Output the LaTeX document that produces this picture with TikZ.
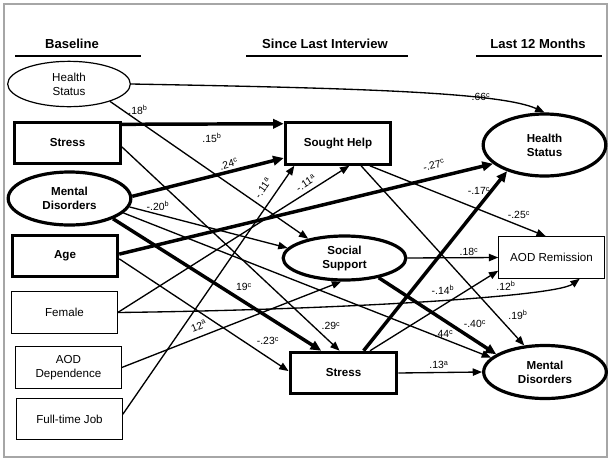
\documentclass[tikz,border=0pt]{standalone}
\usepackage{fontspec}
\setmainfont{Liberation Sans}
\usetikzlibrary{shapes.geometric,arrows.meta}

\begin{document}
\begin{tikzpicture}
[x=0.75pt,y=-0.75pt]
\tikzset{ovl/.style={ellipse,draw,fill=white,line width=0.9pt,minimum width=92pt,inner sep=0pt,align=center,font=\fontsize{8.7}{10.5}\selectfont}}
\tikzset{ovlb/.style={ovl,line width=2.4pt,font=\fontsize{8.7}{10.5}\selectfont\bfseries}}
\tikzset{bx/.style={draw,fill=white,line width=0.9pt,minimum width=79pt,minimum height=31pt,inner sep=0pt,align=center,font=\fontsize{8.7}{10.5}\selectfont}}
\tikzset{bxb/.style={bx,line width=2.4pt,font=\fontsize{8.7}{10.5}\selectfont\bfseries}}
\tikzset{hdr/.style={font=\fontsize{9.8}{12}\selectfont\bfseries,inner sep=0pt}}
\tikzset{coef/.style={font=\fontsize{7.8}{9}\selectfont,inner sep=0pt}}
\tikzset{pth/.style={line width=1pt,-{Triangle[length=7pt,width=5.5pt]}}}
\tikzset{pthk/.style={line width=2.6pt,-{Triangle[length=8pt,width=7pt]}}}
\useasboundingbox (0,0) rectangle (612,461);
\draw [gray!70,line width=0.8pt] (4,4) rectangle (607,457);

% headings
\node [hdr] (h1) at (72,44) {Baseline};
\node [hdr] (h2) at (325,44) {Since Last Interview};
\node [hdr] (h3) at (538,44) {Last 12 Months};
\draw [line width=1.1pt] (15,56) -- (141,56);
\draw [line width=1.1pt] (246,56) -- (408,56);
\draw [line width=1.1pt] (476,56) -- (602,56);

% baseline
\node [ovl,minimum height=34pt] (hsA) at (69,84) {Health\\Status};
\node [bxb] (stressA) at (67.5,143) {Stress};
\node [ovlb,minimum height=39.75pt] (mdA) at (69.5,198.5) {Mental\\Disorders};
\node [bxb] (age) at (65,256) {Age};
\node [bx] (female) at (64.5,312.5) {Female};
\node [bx] (aoddep) at (68.5,367.5) {AOD\\Dependence};
\node [bx] (ftjob) at (69.5,419) {Full-time Job};

% since last interview
\node [bxb] (sought) at (338,143.5) {Sought Help};
\node [ovlb,minimum height=33pt] (social) at (344.5,258) {Social\\Support};
\node [bxb,minimum width=80pt] (stressB) at (343.5,373) {Stress};

% last 12 months
\node [ovlb,minimum height=46.5pt] (hsC) at (544.5,145) {Health\\Status};
\node [bx] (aodrem) at (551.5,257.5) {AOD Remission};
\node [ovlb,minimum height=39.75pt] (mdC) at (545,372) {Mental\\Disorders};

\foreach \from/\to in {hsA.-23/social.152,stressA.-4/stressB.100,mdA.-8/social.170,mdA.-15/mdC.165,age.-3/stressB.178,female.east/sought.-63,aoddep.east/social.-98,ftjob.5/sought.207,sought.-35/aodrem.105,sought.-44/mdC.128,social.east/aodrem.west,stressB.40/aodrem.194,stressB.east/mdC.west}
	\draw [pth] (\from) -- (\to);
\foreach \from/\to in {stressA.19/sought.160,mdA.2/sought.195,mdA.-25/stressB.135,age.2/hsC.200,social.-30/mdC.160,stressB.48/hsC.-145}
	\draw [pthk] (\from) -- (\to);
\draw [pth] (hsA.east) .. controls (350,88) and (500,92) .. (hsC.north);
\draw [pth] (female.east) .. controls (330,310) and (555,297) .. (aodrem.-37);

% coefficients
\node [coef] (c1) at (481,97) {.66\textsuperscript{c}};
\node [coef] (c2) at (138,110) {.18\textsuperscript{b}};
\node [coef] (c3) at (212,138) {.15\textsuperscript{b}};
\node [coef,rotate=15] (c4) at (229,164) {.24\textsuperscript{c}};
\node [coef] (c5) at (158,206) {-.20\textsuperscript{b}};
\node [coef,rotate=55] (c6) at (263,188) {-.11\textsuperscript{a}};
\node [coef,rotate=33] (c7) at (306,183) {-.11\textsuperscript{a}};
\node [coef,rotate=13] (c8) at (434,165) {-.27\textsuperscript{c}};
\node [coef] (c9) at (479,191) {-.17\textsuperscript{c}};
\node [coef] (c10) at (519,215) {-.25\textsuperscript{c}};
\node [coef] (c11) at (469,252) {.18\textsuperscript{c}};
\node [coef] (c12) at (443,290) {-.14\textsuperscript{b}};
\node [coef] (c13) at (506,286) {.12\textsuperscript{b}};
\node [coef] (c14) at (518,315) {.19\textsuperscript{b}};
\node [coef] (c15) at (475,324) {-.40\textsuperscript{c}};
\node [coef] (c16) at (444,334) {.44\textsuperscript{c}};
\node [coef] (c17) at (331,326) {.29\textsuperscript{c}};
\node [coef] (c18) at (439,365) {.13\textsuperscript{a}};
\node [coef] (c19) at (244,287) {19\textsuperscript{c}};
\node [coef,rotate=22] (c20) at (199,326) {12\textsuperscript{a}};
\node [coef] (c21) at (268,341) {-.23\textsuperscript{c}};
\end{tikzpicture}
\end{document}
